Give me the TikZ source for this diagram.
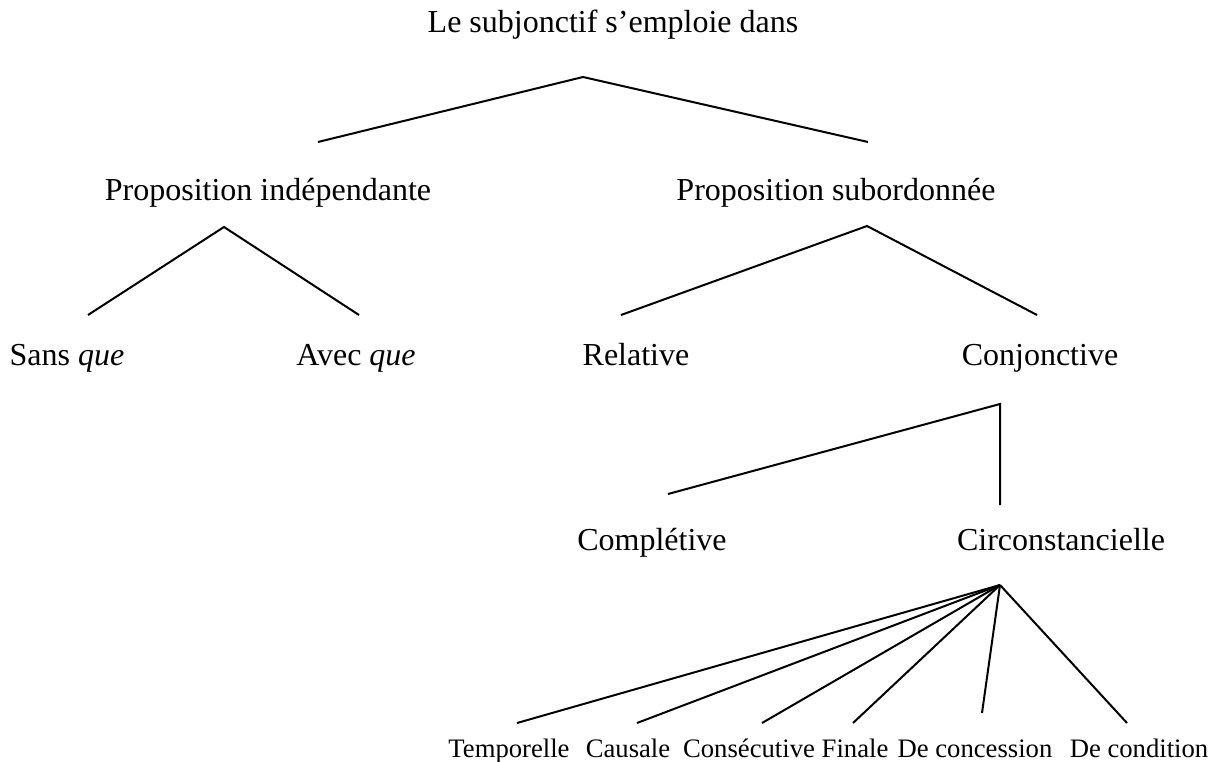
\documentclass[tikz,border=0pt]{standalone}
\usepackage{fontspec}
\setmainfont{Liberation Serif}

\begin{document}
\begin{tikzpicture}[
    x=0.375pt, y=-0.375pt,
    term/.style={anchor=base, inner sep=0pt, font=\fontsize{12}{14}\selectfont},
    smallterm/.style={anchor=base, inner sep=0pt, font=\fontsize{10}{12}\selectfont},
    branch/.style={line width=0.75pt, line join=miter}
]
\useasboundingbox (0,0) rectangle (1217,762);

% labels
\node[term] (root) at (613,33) {Le subjonctif s’emploie dans};
\node[term] (indep) at (268,201) {Proposition indépendante};
\node[term] (subord) at (836,201) {Proposition subordonnée};
\node[term] (sansque) at (67,366) {Sans \textit{que}};
\node[term] (avecque) at (356,366) {Avec \textit{que}};
\node[term] (relative) at (636,366) {Relative};
\node[term] (conjonctive) at (1040,366) {Conjonctive};
\node[term] (completive) at (652,550) {Complétive};
\node[term] (circonst) at (1061,550) {Circonstancielle};
\node[smallterm] (temporelle) at (509,757) {Temporelle};
\node[smallterm] (causale) at (628,757) {Causale};
\node[smallterm] (consecutive) at (749,757) {Consécutive};
\node[smallterm] (finale) at (855,757) {Finale};
\node[smallterm] (concession) at (975,757) {De concession};
\node[smallterm] (condition) at (1139,757) {De condition};

% forks
\coordinate (rootfork) at (583,77);
\coordinate (indepfork) at (224,227);
\coordinate (subordfork) at (867,226);
\coordinate (conjfork) at (1000,404);
\coordinate (circfork) at (1000,585);

% leg ends
\coordinate (indepleg) at (318,142);
\coordinate (subordleg) at (868,142);
\coordinate (sansleg) at (88,315);
\coordinate (avecleg) at (359,315);
\coordinate (relleg) at (621,315);
\coordinate (conjleg) at (1037,315);
\coordinate (compleg) at (668,494);
\coordinate (circleg) at (1000,505);
\coordinate (templeg) at (517,723);
\coordinate (causleg) at (637,723);
\coordinate (consleg) at (762,723);
\coordinate (finleg) at (853,723);
\coordinate (concleg) at (982,713);
\coordinate (condleg) at (1127,723);

\draw[branch] (indepleg) -- (rootfork) -- (subordleg);
\draw[branch] (sansleg) -- (indepfork) -- (avecleg);
\draw[branch] (relleg) -- (subordfork) -- (conjleg);
\draw[branch] (compleg) -- (conjfork) -- (circleg);
\foreach \leg in {templeg, causleg, consleg, finleg, concleg, condleg}
    \draw[branch] (circfork) -- (\leg);
\end{tikzpicture}
\end{document}
